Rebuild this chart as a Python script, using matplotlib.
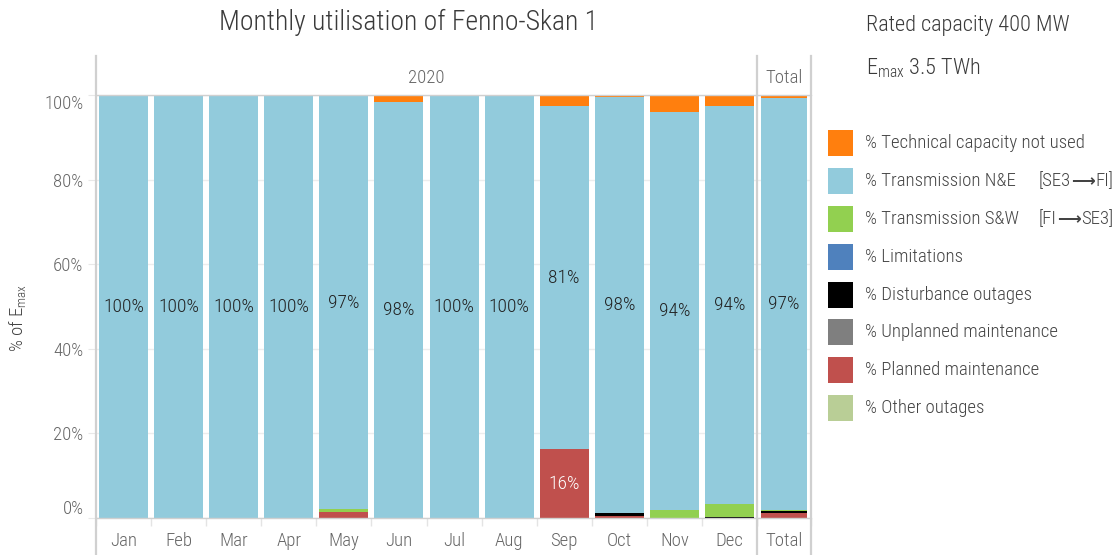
import matplotlib
matplotlib.use("Agg")
import matplotlib.pyplot as plt
from matplotlib.patches import Rectangle
from matplotlib.lines import Line2D
from matplotlib import font_manager as fm
from matplotlib.ft2font import FT2Font
import numpy as np

# ---------------- font selection (prefer a condensed face) ----------------
names = {f.name for f in fm.fontManager.ttflist}
cond_entries = [f for f in fm.fontManager.ttflist
                if ("Narrow" in f.name or "Condensed" in f.name
                    or str(f.stretch) in ("condensed", "semi-condensed", "extra-condensed", "ultra-condensed"))]
main_font = None
stretch = "normal"
weight = "normal"
for pref in ["Roboto Condensed", "Liberation Sans Narrow", "Open Sans Condensed"]:
    if pref in names:
        main_font = pref
        break
if main_font is None:
    for f in cond_entries:
        main_font = f.name
        stretch = "condensed"
        break
if main_font is None:
    main_font = "Roboto"
if main_font == "Roboto Condensed":
    ws = [f.weight for f in fm.fontManager.ttflist if f.name == main_font]
    if any(w in (300, "light") for w in ws):
        weight = "light"

FONT = [main_font, "DejaVu Sans"]
plt.rcParams['font.family'] = FONT
plt.rcParams['font.stretch'] = stretch
plt.rcParams['font.weight'] = weight
plt.rcParams['mathtext.fontset'] = 'custom'
plt.rcParams['mathtext.rm'] = main_font
plt.rcParams['mathtext.it'] = main_font
plt.rcParams['mathtext.bf'] = main_font

# find an installed family that has the long arrow glyph
LONG_ARROW = "\u27f6"
arrow_file = None
for f in fm.fontManager.ttflist:
    try:
        if 0x27F6 in FT2Font(f.fname).get_charmap():
            arrow_file = f.fname
            if "DejaVu" in f.name or "Noto" in f.name:
                break
    except Exception:
        pass
if arrow_file is not None:
    arrow_char, arrow_prop = LONG_ARROW, fm.FontProperties(fname=arrow_file, size=12)
else:
    arrow_char, arrow_prop = "\u2192", fm.FontProperties(family=FONT, weight=weight, size=13.5)

# ---------------- data ----------------
months = ["Jan", "Feb", "Mar", "Apr", "May", "Jun", "Jul", "Aug", "Sep", "Oct", "Nov", "Dec"]
total_label = ["Total"]
facet_labels = ["2020", "Total"]

series_names = ["% Other outages", "% Planned maintenance", "% Unplanned maintenance",
                "% Disturbance outages", "% Limitations", "% Transmission S&W",
                "% Transmission N&E", "% Technical capacity not used"]
series_colors = ["#B9CE96", "#C0504D", "#7F7F7F", "#000000", "#4F81BD",
                 "#92D050", "#92CBDC", "#FF7F0E"]
direction_notes = [("[SE3", "FI]"), ("[FI", "SE3]")]

other_outages   = [0, 0, 0, 0, 0, 0, 0, 0, 0, 0, 0, 0]
planned_maint   = [0, 0, 0, 0, 1.5, 0, 0, 0, 16.2, 0.4, 0, 0]
unplanned_maint = [0, 0, 0, 0, 0, 0, 0, 0, 0, 0, 0, 0]
disturbance     = [0, 0, 0, 0, 0, 0, 0, 0, 0, 0.7, 0, 0.3]
limitations     = [0, 0, 0, 0, 0, 0, 0, 0, 0, 0, 0, 0]
trans_sw        = [0, 0, 0, 0, 0.7, 0, 0, 0, 0, 0, 1.9, 3.0]
trans_ne        = [99.75, 99.75, 99.75, 99.75, 97.49, 98.3, 99.75, 99.75, 81.2, 98.45, 94.1, 94.1]
not_used        = [0.25, 0.25, 0.25, 0.25, 0.31, 1.7, 0.25, 0.25, 2.6, 0.3, 4.0, 2.6]

tot_other, tot_planned, tot_unplanned, tot_dist = [0], [1.2], [0], [0.5]
tot_lim, tot_sw, tot_ne, tot_notused = [0], [0.25], [97.4], [0.65]

monthly = [other_outages, planned_maint, unplanned_maint, disturbance,
           limitations, trans_sw, trans_ne, not_used]
totals = [tot_other, tot_planned, tot_unplanned, tot_dist,
          tot_lim, tot_sw, tot_ne, tot_notused]
# which series get value labels, and their text colour
label_series = {1: "white", 6: "#222222"}

yticks = [0, 20, 40, 60, 80, 100]
ytick_labels = ["0%", "20%", "40%", "60%", "80%", "100%"]

# ---------------- figure ----------------
W, H = 1120, 555
fig = plt.figure(figsize=(W / 100, H / 100), dpi=100)

def fx(px): return px / W
def fy(py): return 1 - py / H

grid_c = "#ededed"
line_c = "#d0d0d0"
tick_c = "#666666"
text_c = "#444444"

ax1 = fig.add_axes([fx(96), fy(518), fx(757) - fx(96), fy(95) - fy(518)])
ax2 = fig.add_axes([fx(757), fy(518), fx(811) - fx(757), fy(95) - fy(518)])

def draw(ax, cats, data, width):
    x = np.arange(len(cats))
    bottom = np.zeros(len(cats))
    for i, vals in enumerate(data):
        v = np.array(vals, dtype=float)
        ax.bar(x, v, width, bottom=bottom, color=series_colors[i], linewidth=0, zorder=2)
        if i in label_series:
            for xi, (b, vv) in enumerate(zip(bottom, v)):
                if vv >= 5:
                    ax.text(xi, b + vv / 2, f"{round(vv):.0f}%", ha="center", va="center",
                            fontsize=14, color=label_series[i], zorder=3)
        bottom += v
    ax.set_xlim(-0.5, len(cats) - 0.5)
    ax.set_ylim(0, 100)
    ax.set_yticks(yticks)
    ax.grid(axis="y", color=grid_c, linewidth=1, zorder=0)
    ax.set_axisbelow(True)
    ax.set_xticks(x)
    ax.set_xticklabels(cats, fontsize=13.5, color=tick_c)
    ax.set_xticks(np.arange(len(cats) + 1) - 0.5, minor=True)
    ax.tick_params(axis="x", which="major", length=0, pad=10)
    ax.tick_params(axis="x", which="minor", length=6, color="#e4e4e4", width=1)
    for s in ["left", "right"]:
        ax.spines[s].set_visible(False)
    for s in ["top", "bottom"]:
        ax.spines[s].set_color(line_c)
        ax.spines[s].set_linewidth(1)

draw(ax1, months, monthly, 0.89)
draw(ax2, total_label, totals, 0.85)

ax1.set_yticklabels(ytick_labels, fontsize=13.5, color=tick_c)
ax1.tick_params(axis="y", length=6, color="#e8e8e8", pad=3)
for lbl, t in zip(ax1.get_yticklabels(), yticks):
    if t == 100:
        lbl.set_va("top")
    elif t == 0:
        lbl.set_va("bottom")
ax2.tick_params(axis="y", length=0, labelleft=False)

# facet separators and strips
for xp in [96, 757, 811]:
    fig.add_artist(Line2D([fx(xp), fx(xp)], [fy(56), 0], color=line_c, lw=1.6))
fig.text(fx(426), fy(78), facet_labels[0], ha="center", va="center", fontsize=13.5, color=tick_c)
fig.text(fx(784), fy(78), facet_labels[1], ha="center", va="center", fontsize=13.5, color=tick_c)

# titles
fig.text(fx(409), fy(22), "Monthly utilisation of Fenno-Skan 1", ha="center", va="center",
         fontsize=20, color="#3a3a3a")
fig.text(fx(18), fy(318), r"% of $\mathrm{E_{max}}$", rotation=90, ha="center", va="center",
         fontsize=13.5, color=text_c)
fig.text(fx(866), fy(26), "Rated capacity 400 MW", ha="left", va="center", fontsize=16, color="#3a3a3a")
fig.text(fx(866), fy(68), r"$\mathrm{E_{max}}$ 3.5 TWh", ha="left", va="center", fontsize=16, color="#3a3a3a")

# legend (top to bottom)
legend_rows = [143, 181, 219, 257, 295, 332, 370, 408]
for k, row in enumerate(legend_rows):
    i = len(series_names) - 1 - k
    fig.add_artist(Rectangle((fx(828), fy(row + 13)), fx(853) - fx(828), fy(row - 13) - fy(row + 13),
                             facecolor=series_colors[i], edgecolor="none", transform=fig.transFigure))
    fig.text(fx(865), fy(row), series_names[i], ha="left", va="center", fontsize=13.5, color=text_c)

# direction notes: "[A", long arrow, "B]" laid out right-aligned at x=1113
renderer = fig.canvas.get_renderer()
for (a, b), row in zip(direction_notes, [181, 219]):
    pieces = []
    for piece, prop in [(a, None), (arrow_char, arrow_prop), (b, None)]:
        kw = dict(color=text_c, ha="left", va="center")
        if prop is None:
            t = fig.text(0, fy(row), piece, fontsize=13.5, **kw)
        else:
            t = fig.text(0, fy(row), piece, fontproperties=prop, **kw)
        pieces.append(t)
    widths = [t.get_window_extent(renderer).width for t in pieces]
    x = 1113 - sum(widths)
    for t, w in zip(pieces, widths):
        t.set_x(fx(x))
        x += w

fig.savefig("out.png", dpi=100)
